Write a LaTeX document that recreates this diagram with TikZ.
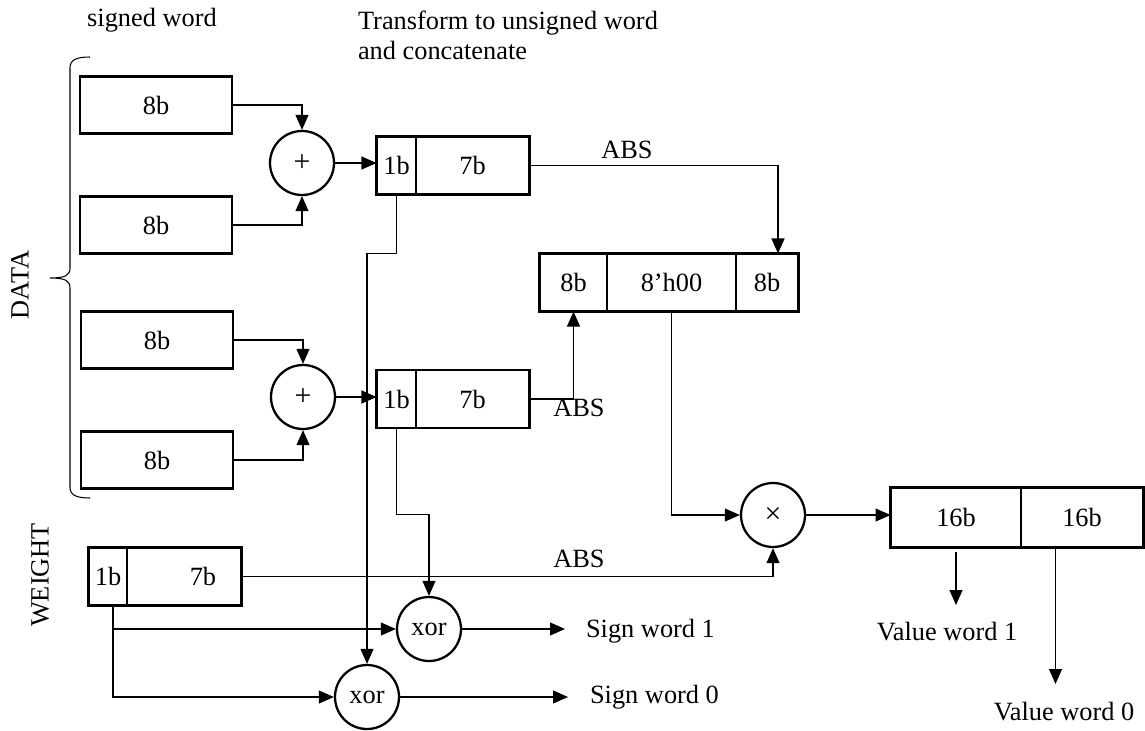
\documentclass[tikz,border=0pt]{standalone}
\usepackage{fontspec}
\setmainfont{Liberation Serif}
\usetikzlibrary{arrows.meta}
\tikzset{
  cell/.style={draw, line width=0.6pt, minimum height=1.14cm, inner sep=0pt},
  wide/.style={cell, line width=1.3pt, minimum width=3.04cm},
  op/.style={circle, draw, line width=1.3pt, minimum size=1.28cm, inner sep=0pt},
  sym/.style={op, font=\fontsize{17}{19}\selectfont},
  lbl/.style={inner sep=2pt},
  rim/.style={line width=1.3pt},
}
\begin{document}
\begin{tikzpicture}[x=0.02cm, y=-0.02cm, line width=0.6pt,
  every node/.style={font=\fontsize{15}{17}\selectfont},
  >={Triangle[length=0.3cm,width=0.26cm]}]
\useasboundingbox (0,0) rectangle (1145,730);
%标题
\node[lbl] (sw) at (152,20) {signed word};
\node[lbl, align=left, anchor=west] (tr) at (354,35) {Transform to unsigned word\\and concatenate};
\node[lbl, rotate=90] (data) at (20,285) {DATA};
\node[lbl, rotate=90] (wt) at (40,575) {WEIGHT};
%大括号
\draw (90,57) .. controls (76,57) and (70,60) .. (70,68) -- (70,268)
  .. controls (70,275) and (66,278) .. (50,278)
  .. controls (66,278) and (70,281) .. (70,288) -- (70,487)
  .. controls (70,495) and (76,498) .. (90,498);
%输入数据
\node[wide] (d1) at (156,105) {8b};
\node[wide] (d2) at (156,225) {8b};
\node[wide] (d3) at (157,340) {8b};
\node[wide] (d4) at (157,460) {8b};
\node[sym] (add1) at (302,163) {+};
\node[sym] (add2) at (303,397) {+};
%符号位+数值
\node[cell, minimum width=0.78cm] (s1) at (396.5,165.5) {1b};
\node[cell, minimum width=2.26cm] (v1) at (472.5,165.5) {7b};
\draw[rim] (s1.north west) rectangle (v1.south east);
\node[cell, minimum width=0.78cm] (s2) at (396.5,399) {1b};
\node[cell, minimum width=2.26cm] (v2) at (472.5,399) {7b};
\draw[rim] (s2.north west) rectangle (v2.south east);
%拼接
\node[cell, minimum width=1.34cm] (c1) at (573.5,282.5) {8b};
\node[cell, minimum width=2.58cm] (c2) at (671.5,282.5) {8'h00};
\node[cell, minimum width=1.24cm] (c3) at (767,282.5) {8b};
\draw[rim] (c1.north west) rectangle (c3.south east);
%权重
\node[cell, minimum width=0.76cm] (w1) at (108,576.5) {1b};
\node[cell, minimum width=2.28cm] (w2) at (184,576.5) {\hspace{0.76cm}7b};
\draw[rim] (w1.north west) rectangle (w2.south east);
%乘法与结果
\node[sym] (mult) at (773,515) {×};
\node[cell, minimum width=2.6cm, minimum height=1.18cm] (r1) at (956,517.5) {16b};
\node[cell, minimum width=2.44cm, minimum height=1.18cm] (r2) at (1082,517.5) {16b};
\draw[rim] (r1.north west) rectangle (r2.south east);
\node[op] (xor1) at (429,629) {xor};
\node[op] (xor2) at (367,697) {xor};
%文字
\node[lbl] (abs1) at (627,150) {ABS};
\node[lbl] (abs2) at (579,408) {ABS};
\node[lbl] (abs3) at (579,559) {ABS};
\node[lbl, anchor=west] (sg1) at (582,631) {Sign word 1};
\node[lbl, anchor=west] (sg0) at (586,697) {Sign word 0};
\node[lbl, anchor=north] (vw1) at (947,618) {Value word 1};
\node[lbl, anchor=north] (vw0) at (1064,698) {Value word 0};

\draw[->] (d1.east) -| (add1.north);
\draw[->] (d2.east) -| (add1.south);
\draw[->] (d3.east) -| (add2.north);
\draw[->] (d4.east) -| (add2.south);
\draw[->] (add1.east) -- (add1.east -| s1.west);
\draw[->] (add2.east) -- (add2.east -| s2.west);
\draw[->] (v1.east) -| ([xshift=0.22cm]c3.north);
\draw[->] (v2.east) -| (c1.south);
\draw[->] (c2.south) |- (mult.west);
\draw[->] (w2.east) -| (mult.south);
\draw[->] (mult.east) -- (mult.east -| r1.west);
\draw[->, shorten >=0.26cm] ([yshift=-0.08cm]r1.south) -- (r1.south |- vw1.north);
\draw[->, shorten >=0.28cm] ([xshift=0.7cm]r2.south west) -- ([xshift=0.7cm]r2.south west |- vw0.north);
\draw[->] (s1.south) -- ++(0,59) -| (xor2.north);
\draw[->] (s2.south) -- ++(0,86) -| (xor1.north);
\draw[->] ([xshift=0.1cm]w1.south) |- (xor1.west);
\draw[->] ([xshift=0.1cm]w1.south) |- (xor2.west);
\draw[->, shorten >=0.34cm] (xor1.east) -- (xor1.east -| sg1.west);
\draw[->, shorten >=0.36cm] (xor2.east) -- (xor2.east -| sg0.west);
\end{tikzpicture}
\end{document}
